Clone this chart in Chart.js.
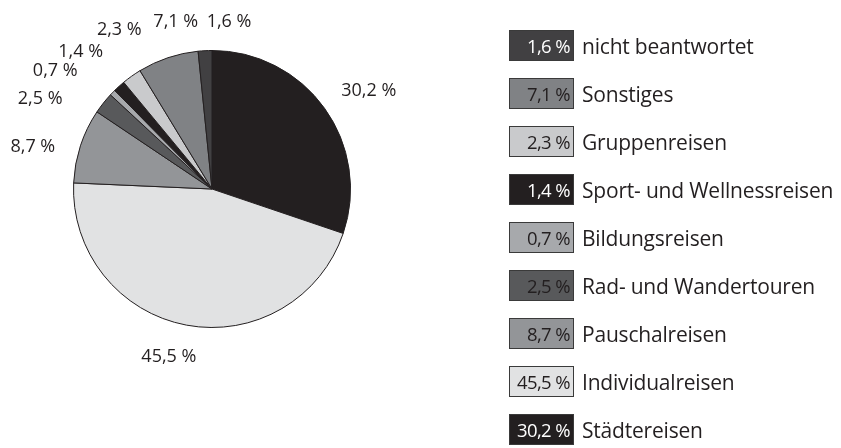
<!DOCTYPE html>
<html>
<head>
<meta charset="utf-8">
<script src="https://cdn.jsdelivr.net/npm/chart.js@4/dist/chart.umd.min.js"></script>
<style>
  body { margin: 0; background: #fff; font-family: "Open Sans", sans-serif; color: #231f20; }
  #wrap { position: relative; width: 841px; height: 448px; }
  #legend { position: absolute; left: 509px; top: 30px; }
  .row { display: flex; align-items: center; height: 31px; margin-bottom: 17px; }
  .box { width: 63px; height: 29px; border: 1px solid #3a3a3a; box-sizing: content-box;
         font-size: 18.5px; line-height: 29px; text-align: right; white-space: nowrap; letter-spacing: -0.6px; }
  .box span { padding-right: 3px; }
  .name { margin-left: 8px; font-size: 21px; letter-spacing: -0.2px; white-space: nowrap; }
</style>
</head>
<body>
<div id="wrap">
  <canvas id="pie" width="841" height="448"></canvas>
  <div id="legend"></div>
</div>
<script>
// categories in drawing order (clockwise from 12 o'clock)
const categories = [
  'Städtereisen',
  'Individualreisen',
  'Pauschalreisen',
  'Rad- und Wandertouren',
  'Bildungsreisen',
  'Sport- und Wellnessreisen',
  'Gruppenreisen',
  'Sonstiges',
  'nicht beantwortet',
];
// share in percent
const shares = [30.2, 45.5, 8.7, 2.5, 0.7, 1.4, 2.3, 7.1, 1.6];
const colors = ['#231f20', '#e1e2e3', '#939598', '#58595b', '#a7a9ac', '#231f20', '#c9cacc', '#808285', '#414042'];
const textColors = ['#fff', '#231f20', '#231f20', '#231f20', '#231f20', '#fff', '#231f20', '#231f20', '#fff'];

// label placement around the pie (angle shift in degrees, distance from centre)
const labelShift = [3.6, 3.8, -5.0, -10.7, -7.2, -1.6, 5.2, 6.3, 8.7];
const labelDist = [185, 173, 184, 194, 196, 190, 184, 171, 168];

const fmt = v => v.toFixed(1).replace('.', ',') + ' %';

const outsideLabels = {
  id: 'outsideLabels',
  afterDatasetsDraw(chart) {
    const ctx = chart.ctx;
    const arcs = chart.getDatasetMeta(0).data;
    ctx.save();
    ctx.font = '18px "Open Sans"';
    ctx.fillStyle = '#231f20';
    ctx.textAlign = 'center';
    ctx.textBaseline = 'middle';
    arcs.forEach((arc, i) => {
      const a = (arc.startAngle + arc.endAngle) / 2 + labelShift[i] * Math.PI / 180;
      const x = arc.x + Math.cos(a) * labelDist[i];
      const y = arc.y + Math.sin(a) * labelDist[i];
      ctx.fillText(fmt(shares[i]), x, y);
    });
    ctx.restore();
  }
};

const canvas = document.getElementById('pie');
canvas.chart = new Chart(canvas, {
  type: 'pie',
  data: {
    labels: categories,
    datasets: [{
      data: shares,
      backgroundColor: colors,
      borderColor: '#231f20',
      borderWidth: 1,
    }],
  },
  options: {
    responsive: false,
    animation: false,
    layout: { padding: { left: 73, right: 490, top: 50, bottom: 120 } },
    plugins: {
      legend: { display: false },
      tooltip: { enabled: false },
    },
  },
  plugins: [outsideLabels],
});

// legend, reversed order
const legend = document.getElementById('legend');
for (let i = categories.length - 1; i >= 0; i--) {
  const row = document.createElement('div');
  row.className = 'row';
  row.innerHTML = `<div class="box" style="background:${colors[i]};color:${textColors[i]}"><span>${fmt(shares[i])}</span></div><div class="name">${categories[i]}</div>`;
  legend.appendChild(row);
}
</script>
</body>
</html>
